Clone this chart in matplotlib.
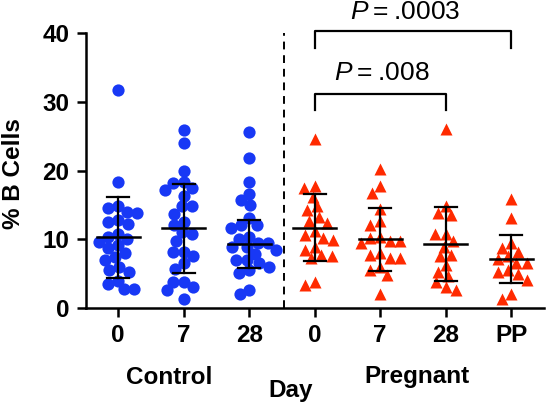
import numpy as np
import matplotlib
matplotlib.use("Agg")
import matplotlib.pyplot as plt

plt.rcParams['font.family'] = ['Liberation Sans', 'DejaVu Sans']
plt.rcParams['mathtext.fontset'] = 'custom'
plt.rcParams['mathtext.it'] = 'Liberation Sans:italic'
plt.rcParams['mathtext.rm'] = 'Liberation Sans'

# ---------------- data ----------------
tick_labels = ["0", "7", "28", "0", "7", "28", "PP"]
groups = ["Control", "Control", "Control", "Pregnant", "Pregnant", "Pregnant", "Pregnant"]

ctrl_d0 = [31.8, 18.4, 14.9, 14.5, 14.0, 13.8, 12.8, 12.5, 12.3, 10.8, 10.4, 10.0, 9.6,
           9.2, 8.8, 8.0, 7.4, 7.0, 6.0, 5.6, 5.3, 4.0, 3.5, 2.7, 2.7]
ctrl_d7 = [25.9, 24.0, 20.0, 18.4, 18.2, 17.5, 17.2, 16.3, 14.8, 14.8, 13.7, 12.5, 12.1,
           11.0, 10.8, 9.7, 8.2, 8.2, 7.5, 6.6, 5.7, 3.8, 3.8, 3.1, 2.6, 1.3]
ctrl_d28 = [25.7, 21.8, 18.4, 16.6, 15.7, 15.0, 13.1, 12.1, 12.1, 11.6, 10.4, 10.0, 9.5,
            9.5, 8.9, 8.9, 8.5, 7.9, 7.0, 7.0, 6.5, 6.0, 5.5, 5.1, 2.6, 2.0]
preg_d0 = [24.6, 17.7, 17.5, 16.2, 14.8, 14.3, 13.3, 12.7, 12.4, 11.2, 10.7, 10.2, 9.9,
           8.9, 8.5, 7.7, 7.5, 7.3, 3.8, 3.4]
preg_d7 = [20.2, 17.7, 16.7, 14.4, 12.6, 12.1, 10.4, 10.2, 9.7, 9.7, 9.4, 8.0, 7.7, 7.3,
           7.3, 6.0, 5.5, 4.8, 2.1]
preg_d28 = [26.1, 14.9, 13.8, 13.6, 10.8, 10.8, 9.7, 8.9, 7.7, 7.5, 6.3, 5.3, 4.6, 3.8,
            3.1, 2.6]
preg_pp = [15.9, 13.1, 9.4, 8.7, 8.2, 7.5, 7.2, 6.5, 6.5, 5.5, 5.3, 5.0, 4.1, 2.0, 1.3]

series = [ctrl_d0, ctrl_d7, ctrl_d28, preg_d0, preg_d7, preg_d28, preg_pp]

# mean and SD
means = [10.3, 11.6, 9.3, 11.7, 10.0, 9.3, 7.1]
sds = [5.9, 6.5, 3.5, 4.9, 4.6, 5.4, 3.5]

p_labels = [".008", ".0003"]
p_pairs = [(3, 5), (3, 6)]

# ---------------- figure ----------------
W, H = 547, 404
fig = plt.figure(figsize=(W / 100, H / 100), dpi=100)
ax = fig.add_axes([85.5 / W, 96 / H, 458.5 / W, 274.7 / H])
ax.set_xlim(-0.5, 6.5)
ax.set_ylim(0, 40)

blue = "#1838f5"
red = "#ff2a00"

# beeswarm layout in pixel space
def swarm(vals, x0, diam):
    pts = []
    out = [None] * len(vals)
    order = np.argsort(vals)[::-1]
    for i in order:
        px, py = ax.transData.transform((x0, vals[i]))
        cands = [0.0]
        for (qx, qy) in pts:
            dy = py - qy
            if abs(dy) < diam:
                dx = np.sqrt(diam ** 2 - dy ** 2)
                cands += [qx - px + dx, qx - px - dx]
        best = None
        for c in sorted(cands, key=lambda c: (abs(c), c)):
            ok = True
            for (qx, qy) in pts:
                if (px + c - qx) ** 2 + (py - qy) ** 2 < diam ** 2 - 1e-6:
                    ok = False
                    break
            if ok:
                best = c
                break
        pts.append((px + best, py))
        out[i] = ax.transData.inverted().transform((px + best, py))[0]
    return out

for k, vals in enumerate(series):
    is_ctrl = groups[k] == "Control"
    xs = swarm(vals, k, 10.5)
    ax.plot(xs, vals, ls="none", marker="o" if is_ctrl else "^",
            ms=8.8 if is_ctrl else 9.2, color=blue if is_ctrl else red,
            mec="none", zorder=2, clip_on=False)
    m, s = means[k], sds[k]
    ax.plot([k - 0.33, k + 0.33], [m, m], color="black", lw=1.8, zorder=3)
    ax.plot([k, k], [m - s, m + s], color="black", lw=1.6, zorder=3)
    for yv in (m - s, m + s):
        ax.plot([k - 0.17, k + 0.17], [yv, yv], color="black", lw=1.6, zorder=3)

ax.axvline(2.53, ymin=0, ymax=1, color="black", lw=1.4, ls=(0, (4, 3)), zorder=1)

# significance brackets
br_top = [31.2, 40.3]
br_bot = [28.9, 37.8]
txt_y = [34.2, 43.1]
txt_x = [4.02, 4.38]
for (a, b), lab, t, bo, ty, tx in zip(p_pairs, p_labels, br_top, br_bot, txt_y, txt_x):
    ax.plot([a, a, b, b], [bo, t, t, bo], color="black", lw=1.6, clip_on=False)
    ax.text(tx, ty, r"$\mathit{P}$" + "\u2009=\u2009" + lab, ha="center", va="center",
            fontsize=19)

# axes styling
for sp in ("top", "right"):
    ax.spines[sp].set_visible(False)
for sp in ("left", "bottom"):
    ax.spines[sp].set_linewidth(1.8)
ax.set_yticks([0, 10, 20, 30, 40])
ax.set_xticks(range(len(tick_labels)))
ax.set_xticklabels(tick_labels)
ax.tick_params(axis="both", width=1.8, length=6.5, labelsize=17.5, pad=5)
for lbl in ax.get_xticklabels() + ax.get_yticklabels():
    lbl.set_fontweight("bold")

fig.text(14 / W, 1 - 174 / H, "% B Cells", rotation=90, ha="center", va="center",
         fontsize=17.5, fontweight="bold")
fig.text(169 / W, 1 - 377 / H, "Control", ha="center", va="center", fontsize=17.5, fontweight="bold")
fig.text(291 / W, 1 - 390 / H, "Day", ha="center", va="center", fontsize=17.5, fontweight="bold")
fig.text(417 / W, 1 - 377 / H, "Pregnant", ha="center", va="center", fontsize=17.5, fontweight="bold")

fig.savefig("out.png", dpi=100)
